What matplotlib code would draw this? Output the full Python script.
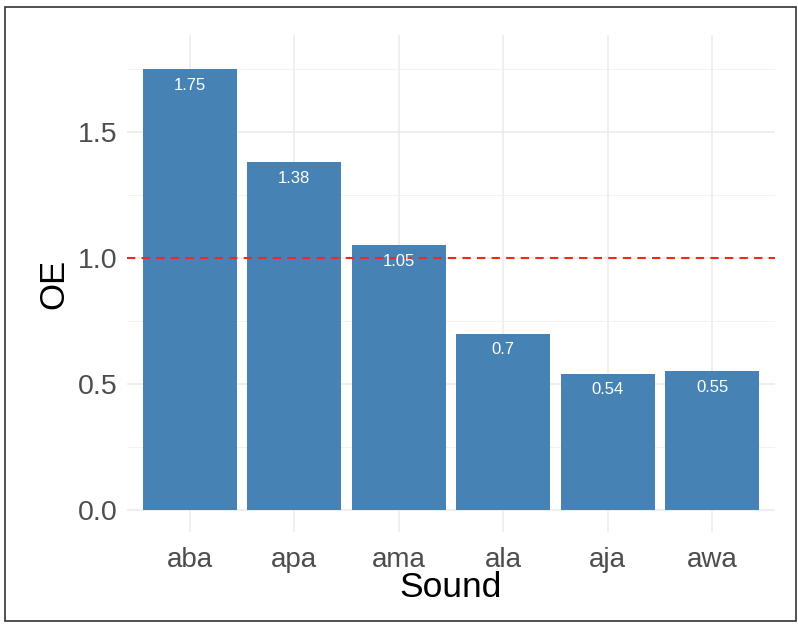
import matplotlib.pyplot as plt
from matplotlib.patches import Rectangle
from matplotlib.ticker import MultipleLocator

sounds = ["aba", "apa", "ama", "ala", "aja", "awa"]
oe = [1.75, 1.38, 1.05, 0.70, 0.54, 0.55]
labels = ["1.75", "1.38", "1.05", "0.7", "0.54", "0.55"]

plt.rcParams['font.family'] = ['Liberation Sans', 'DejaVu Sans']

fig = plt.figure(figsize=(7.98, 6.27), dpi=100)
ax = fig.add_axes([127 / 798, 1 - 532 / 627, (775 - 127) / 798, (532 - 35) / 627])

x = list(range(len(sounds)))
ax.bar(x, oe, width=0.9, color="#4682B4", zorder=2)
# value labels just inside the top of each bar
for xi, v, lab in zip(x, oe, labels):
    ax.annotate(lab, (xi, v), xytext=(0, -16), textcoords="offset pixels",
                ha="center", va="center", color="white", fontsize=12, zorder=4)

ax.axhline(1.0, color="#F0281E", linestyle=(0, (4, 3)), linewidth=1.5, zorder=3)

ax.set_xlim(-0.6, len(sounds) - 0.4)
ax.set_ylim(-0.0875, 1.885)
ax.set_xticks(x)
ax.set_xticklabels(sounds)
ax.yaxis.set_minor_locator(MultipleLocator(0.25))
ax.set_yticks([0, 0.5, 1.0, 1.5])
ax.set_yticklabels(["0.0", "0.5", "1.0", "1.5"])

ax.grid(which="major", color="#EBEBEB", linewidth=1.1, zorder=0)
ax.grid(which="minor", axis="y", color="#F2F2F2", linewidth=0.7, zorder=0)
ax.set_axisbelow(True)
ax.tick_params(which="both", length=0)
ax.tick_params(axis="y", labelsize=20.5, labelcolor="#4D4D4D", pad=7)
ax.tick_params(axis="x", labelsize=20, labelcolor="#4D4D4D", pad=10.5)
for s in ax.spines.values():
    s.set_visible(False)

ax.set_xlabel("Sound", fontsize=25.5, labelpad=-1)
ax.set_ylabel("OE", fontsize=25, labelpad=5)

fig.patches.append(Rectangle((5 / 798, 1 - 621 / 627), 791 / 798, 614 / 627,
                             transform=fig.transFigure, fill=False,
                             edgecolor="#333333", linewidth=1.2))

fig.savefig("out.png", dpi=100)
